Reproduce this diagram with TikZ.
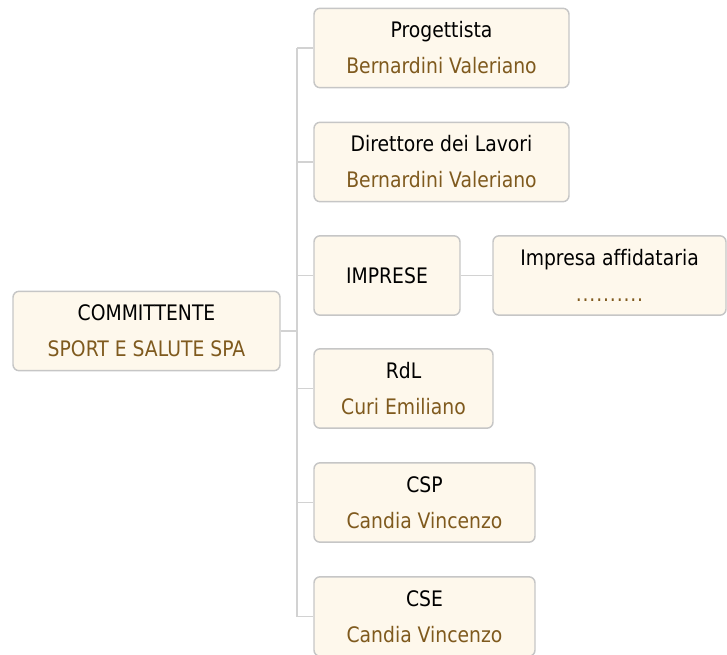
\documentclass[tikz,border=0pt]{standalone}
\usepackage{fontspec}
\setmainfont{DejaVu Sans}[FakeStretch=0.88,Ligatures=NoCommon]
\usepackage{tikz}
\usetikzlibrary{calc}
\definecolor{OrgFill}{HTML}{FEF8EC}
\definecolor{OrgEdge}{HTML}{C6C6C6}
\definecolor{OrgLine}{HTML}{D2D2D2}
\definecolor{OrgBrown}{HTML}{7F5A1E}
\newcommand{\who}[1]{\\[8pt]\textcolor{OrgBrown}{#1}}

\begin{document}
\begin{tikzpicture}[x=0.75pt,y=-0.75pt,
  orgbox/.style={draw=OrgEdge,fill=OrgFill,line width=1.1pt,rounded corners=4.5pt,
    minimum height=59.5pt,align=center,inner sep=0pt,font=\fontsize{16}{19}\selectfont},
  link/.style={draw=OrgLine,line width=1.2pt}]
  \useasboundingbox (0,0) rectangle (727,655);
  % committente e figure
  \node[orgbox,minimum width=200.25pt] (comm) at (146.5,331) {COMMITTENTE\who{SPORT E SALUTE SPA}};
  \node[orgbox,minimum width=191.25pt] (prog) at (441.5,48) {Progettista\who{Bernardini Valeriano}};
  \node[orgbox,minimum width=191.25pt] (dir) at (441.5,162) {Direttore dei Lavori\who{Bernardini Valeriano}};
  \node[orgbox,minimum width=109.5pt] (imp) at (387,275.5) {IMPRESE};
  \node[orgbox,minimum width=174.75pt] (aff) at (609.5,275.5) {Impresa affidataria\who{\addfontfeature{LetterSpace=4}..........}};
  \node[orgbox,minimum width=134.25pt] (rdl) at (403.5,388.5) {RdL\who{Curi Emiliano}};
  \node[orgbox,minimum width=165.75pt] (csp) at (424.5,502.5) {CSP\who{Candia Vincenzo}};
  \node[orgbox,minimum width=165.75pt] (cse) at (424.5,616.5) {CSE\who{Candia Vincenzo}};
  % collegamenti
  \coordinate (trunk) at (297,331);
  \draw[link] (comm.east) -- (trunk);
  \draw[link] (trunk |- prog.west) -- (trunk |- cse.west);
  \foreach \n in {prog,dir,imp,rdl,csp,cse}
    \draw[link] (trunk |- \n.west) -- (\n.west);
  \draw[link] (imp.east) -- (aff.west);
\end{tikzpicture}
\end{document}
